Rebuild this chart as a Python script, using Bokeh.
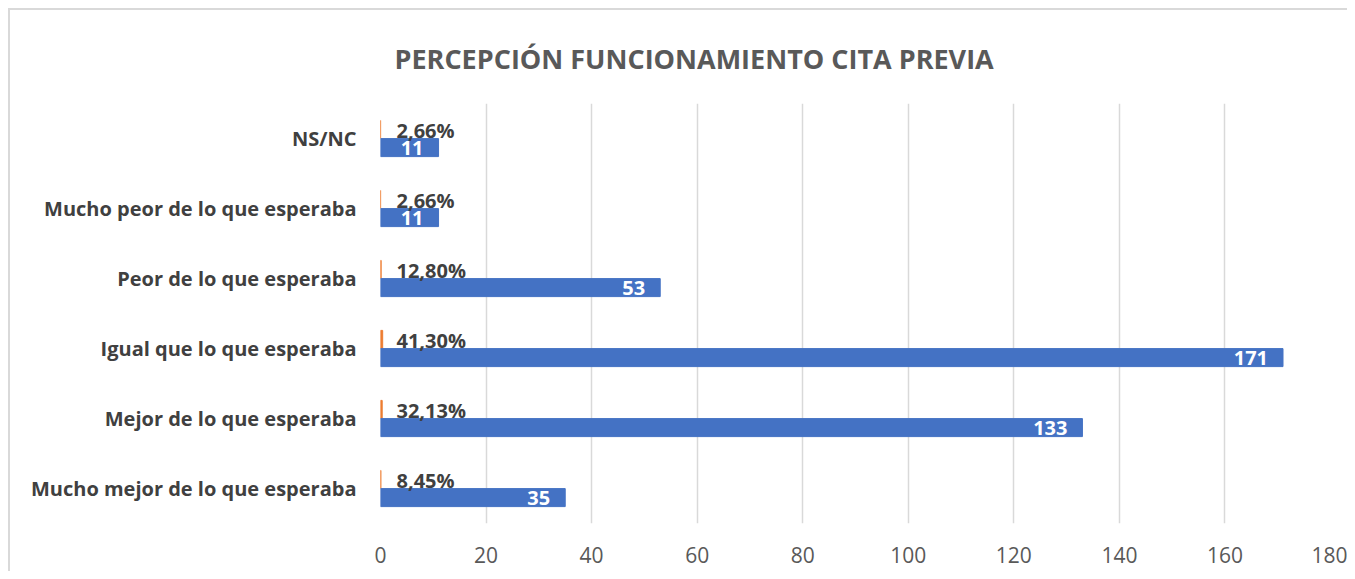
from bokeh.plotting import figure
from bokeh.models import ColumnDataSource, FactorRange, Range1d, FixedTicker
from bokeh.transform import dodge
from bokeh.core.properties import value
from bokeh.embed import file_html
from bokeh.resources import INLINE

categories = ["Mucho mejor de lo que esperaba", "Mejor de lo que esperaba",
              "Igual que lo que esperaba", "Peor de lo que esperaba",
              "Mucho peor de lo que esperaba", "NS/NC"]
counts = [35, 133, 171, 53, 11, 11]
percents = [8.45, 32.13, 41.30, 12.80, 2.66, 2.66]
count_labels = [str(c) for c in counts]
percent_labels = [("%.2f%%" % v).replace(".", ",") for v in percents]
x_ticks = [0, 20, 40, 60, 80, 100, 120, 140, 160, 180]
title_text = "PERCEPCIÓN FUNCIONAMIENTO CITA PREVIA"

FONT = "Open Sans"

src = ColumnDataSource(dict(
    cat=categories,
    count=counts,
    frac=[v / 100 for v in percents],
    zero=[0] * len(categories),
    clab=count_labels,
    plab=percent_labels,
))

p = figure(width=1339, height=563, y_range=FactorRange(*categories),
           x_range=Range1d(0, 180), output_backend="svg", toolbar_location=None,
           min_border_left=370, min_border_right=19, min_border_top=93,
           min_border_bottom=50, title=title_text)
p.outline_line_color = None
p.background_fill_color = "white"
p.border_fill_color = "white"
p.styles = {"border-left": "2px solid #D9D9D9", "border-top": "2px solid #D9D9D9",
            "margin-left": "8px", "margin-top": "8px"}

p.title.align = "left"
p.title.offset = 14
p.title.text_font = FONT
p.title.text_font_style = "bold"
p.title.text_font_size = "27px"
p.title.text_color = "#595959"
try:
    p.title.standoff = 54
except Exception:
    pass

# orange (percent) bars - tiny
p.hbar(y=dodge("cat", 0.13, range=p.y_range), left=0, right="frac", height=0.257,
       color="#ED7D31", source=src)
# blue (count) bars
p.hbar(y=dodge("cat", -0.13, range=p.y_range), left=0, right="count", height=0.257,
       color="#4472C4", source=src)

p.text(x="zero", y=dodge("cat", 0.12, range=p.y_range), text="plab", source=src,
       x_offset=16, text_align="left", text_baseline="middle",
       text_font=value(FONT), text_font_style="bold", text_font_size="20px",
       text_color="#404040")
p.text(x="count", y=dodge("cat", -0.14, range=p.y_range), text="clab", source=src,
       x_offset=-15, text_align="right", text_baseline="middle",
       text_font=value(FONT), text_font_style="bold", text_font_size="20px",
       text_color="white")

p.xaxis.ticker = FixedTicker(ticks=x_ticks)
p.xaxis.axis_line_color = None
p.xaxis.major_tick_line_color = None
p.xaxis.minor_tick_line_color = None
p.xaxis.major_label_text_font = FONT
p.xaxis.major_label_text_font_size = "21px"
p.xaxis.major_label_text_color = "#595959"
p.xaxis.major_label_standoff = 17

p.yaxis.axis_line_color = None
p.yaxis.major_tick_line_color = None
p.yaxis.major_label_text_font = FONT
p.yaxis.major_label_text_font_style = "bold"
p.yaxis.major_label_text_font_size = "20px"
p.yaxis.major_label_text_color = "#404040"
p.yaxis.major_label_standoff = 18

p.xgrid.grid_line_color = "#D9D9D9"
p.xgrid.grid_line_width = 1.5
p.ygrid.grid_line_color = None

open("out.html", "w").write(file_html(p, INLINE))
